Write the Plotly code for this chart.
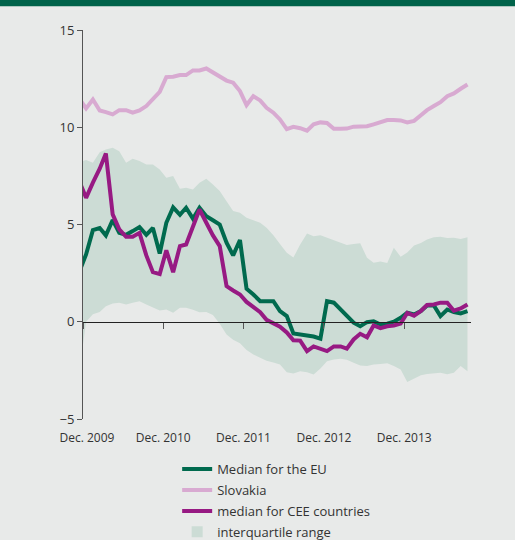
import pandas as pd
import plotly.graph_objects as go

# Monthly observations (mid-month), Nov 2009 .. Sep 2014
months = pd.date_range("2009-11-01", periods=59, freq="MS") + pd.Timedelta(days=14)
dates = [d.strftime("%Y-%m-%d") for d in months]

eu_median = [2.6, 3.46, 4.71, 4.82, 4.44, 5.23, 4.57, 4.47, 4.66, 4.87, 4.47, 4.82, 3.51, 5.09,
             5.88, 5.5, 5.86, 5.3, 5.86, 5.43, 5.22, 5.0, 4.06, 3.41, 4.2, 1.7, 1.4, 1.06, 1.06,
             1.06, 0.55, 0.29, -0.6, -0.64, -0.72, -0.76, -0.87, 1.06, 0.98, 0.63, 0.29, -0.05,
             -0.23, -0.02, 0.02, -0.14, -0.1, 0.0, 0.2, 0.46, 0.37, 0.55, 0.84, 0.84, 0.29, 0.63,
             0.5, 0.43, 0.55]

slovakia = [11.45, 10.97, 11.43, 10.86, 10.78, 10.66, 10.88, 10.88, 10.75, 10.86, 11.09, 11.43,
            11.82, 12.58, 12.6, 12.68, 12.68, 12.92, 12.92, 13.02, 12.8, 12.6, 12.4, 12.29, 11.86,
            11.14, 11.6, 11.38, 11.0, 10.75, 10.4, 9.9, 10.02, 9.95, 9.82, 10.15, 10.25, 10.22,
            9.92, 9.92, 9.93, 10.03, 10.03, 10.05, 10.15, 10.25, 10.37, 10.37, 10.35, 10.25,
            10.33, 10.62, 10.88, 11.09, 11.29, 11.6, 11.74, 11.98, 12.2]

cee_median = [7.2, 6.37, 7.15, 7.87, 8.65, 5.52, 4.75, 4.37, 4.37, 4.57, 3.41, 2.55, 2.45, 3.67,
              2.55, 3.89, 3.97, 4.83, 5.77, 5.09, 4.44, 3.89, 1.83, 1.61, 1.4, 1.02, 0.77, 0.49,
              0.1, -0.09, -0.25, -0.55, -0.95, -0.97, -1.51, -1.27, -1.39, -1.51, -1.27, -1.27,
              -1.38, -0.91, -0.62, -0.8, -0.19, -0.33, -0.23, -0.19, -0.09, 0.45, 0.31, 0.55,
              0.86, 0.89, 0.98, 0.98, 0.57, 0.68, 0.89]

iqr_high = [8.2, 8.31, 8.17, 8.72, 8.86, 8.95, 8.77, 8.17, 8.38, 8.26, 8.09, 8.09, 7.83, 7.4,
            7.49, 6.84, 6.89, 6.8, 7.15, 7.35, 7.06, 6.72, 6.2, 5.69, 5.6, 5.35, 5.22, 5.09, 4.83,
            4.45, 4.0, 3.55, 3.3, 3.97, 4.54, 4.4, 4.45, 4.32, 4.2, 4.05, 3.95, 4.0, 4.03, 3.29,
            3.03, 3.1, 3.02, 3.8, 3.34, 3.56, 3.92, 4.05, 4.23, 4.35, 4.37, 4.3, 4.32, 4.25, 4.35]

iqr_low = [-2.5, 0.0, 0.38, 0.5, 0.8, 0.94, 0.98, 0.89, 0.98, 1.06, 0.89, 0.72, 0.58, 0.63, 0.46,
           0.72, 0.72, 0.62, 0.49, 0.5, 0.35, -0.1, -0.65, -0.93, -1.1, -1.45, -1.68, -1.85, -2.0,
           -2.1, -2.2, -2.6, -2.66, -2.54, -2.6, -2.71, -2.4, -2.03, -1.94, -1.9, -1.95, -2.11,
           -2.25, -2.28, -2.2, -2.17, -2.14, -2.28, -2.45, -3.1, -2.93, -2.75, -2.68, -2.65,
           -2.62, -2.7, -2.62, -2.28, -2.54]

tick_vals = ["2009-12-01", "2010-12-01", "2011-12-01", "2012-12-01", "2013-12-01"]
label_vals = ["2009-12-19", "2010-12-01", "2011-12-01", "2012-12-01", "2013-12-01"]
tick_text = ["Dec. 2009", "Dec. 2010", "Dec. 2011", "Dec. 2012", "Dec. 2013"]
x_range = ["2009-12-01", "2014-10-01"]

BG = "#e8eae9"
BAND = "#ccdcd5"
GREEN = "#006a4e"
PINK = "#d8aad1"
PURPLE = "#971a83"
TEXT = "#333333"
FONT = "Open Sans"

fig = go.Figure()

fig.add_trace(go.Scatter(x=dates, y=iqr_low, mode="lines", line=dict(width=0, color=BAND),
                         showlegend=False, hoverinfo="skip", legendgroup="z"))
fig.add_trace(go.Scatter(x=dates, y=iqr_high, mode="lines", line=dict(width=0, color=BAND),
                         fill="tonexty", fillcolor=BAND, showlegend=False, hoverinfo="skip",
                         legendgroup="z"))

fig.add_trace(go.Scatter(x=dates, y=eu_median, mode="lines", name="Median for the EU",
                         line=dict(color=GREEN, width=4), legendgroup="a"))
fig.add_trace(go.Scatter(x=dates, y=slovakia, mode="lines", name="Slovakia",
                         line=dict(color=PINK, width=4), legendgroup="b"))
fig.add_trace(go.Scatter(x=dates, y=cee_median, mode="lines", name="median for CEE countries",
                         line=dict(color=PURPLE, width=4), legendgroup="c"))
fig.add_trace(go.Scatter(x=[None], y=[None], mode="markers", name="interquartile range",
                         marker=dict(symbol="square", size=11, color=BAND), legendgroup="d",
                         xaxis="x2"))

fig.update_layout(
    width=515, height=540,
    margin=dict(l=83, r=44, t=30, b=121, autoexpand=False),
    paper_bgcolor=BG, plot_bgcolor=BG,
    font=dict(family=FONT, size=12, color=TEXT),
    showlegend=True,
    legend=dict(xref="container", yref="container", x=0.344, y=0.159,
                xanchor="left", yanchor="top", bgcolor="rgba(0,0,0,0)",
                font=dict(family=FONT, size=13, color=TEXT), tracegroupgap=1,
                traceorder="grouped"),
    xaxis=dict(type="date", range=x_range, tickvals=label_vals, ticktext=tick_text,
               tickangle=0, showgrid=False, zeroline=False, showline=False, ticks="",
               ticklabelstandoff=10, tickfont=dict(size=12, color=TEXT)),
    xaxis2=dict(type="date", range=x_range, matches="x", overlaying="x", anchor="free",
                position=0.25, side="bottom", tickvals=tick_vals, showticklabels=False,
                showgrid=False, zeroline=False, showline=True, linecolor="#222222",
                linewidth=1, ticks="outside", ticklen=6, tickcolor="#555555", tickwidth=1),
    yaxis=dict(range=[-5, 15], tickvals=[-5, 0, 5, 10, 15], showgrid=False, zeroline=False,
               showline=True, linecolor="#555555", linewidth=1, ticks="outside", ticklen=5,
               tickcolor="#555555", tickfont=dict(size=13, color=TEXT)),
    shapes=[dict(type="rect", xref="paper", yref="paper", x0=-0.3, x1=1.2, y0=1.061, y1=1.2,
                 fillcolor="#00634a", line=dict(width=0), layer="above")],
)

fig.write_html("out.html", config={"displayModeBar": False},
               post_script="document.body.style.margin='0';")
